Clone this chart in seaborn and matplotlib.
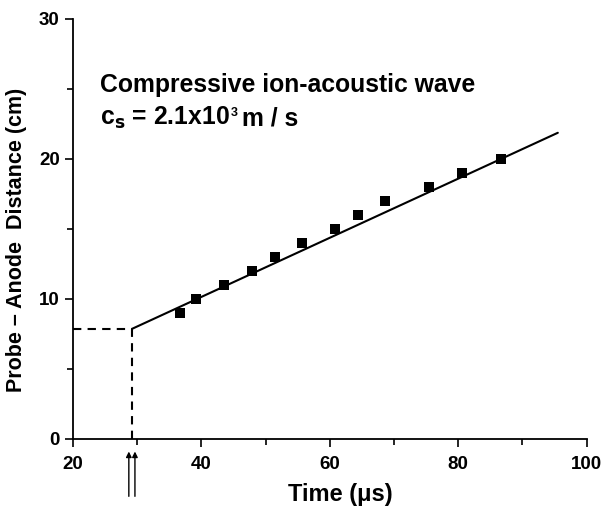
import matplotlib
matplotlib.use("Agg")
import matplotlib.pyplot as plt
import seaborn as sns

# measured arrival times and probe-anode distances
time_us = [36.7, 39.2, 43.5, 47.9, 51.5, 55.7, 60.8, 64.4, 68.6, 75.5, 80.6, 86.7]
dist_cm = [9, 10, 11, 12, 13, 14, 15, 16, 17, 18, 19, 20]

# linear fit (c_s = 2.1x10^3 m/s)
fit_t = [29.2, 95.5]
fit_d = [7.86, 21.86]

# launch-time markers on the time axis
arrow_t = [28.7, 29.65]

sns.set_style("ticks")
plt.rcParams['font.family'] = ['Liberation Sans', 'DejaVu Sans']
plt.rcParams.update({'text.color': 'black', 'axes.labelcolor': 'black',
                     'xtick.color': 'black', 'ytick.color': 'black',
                     'axes.edgecolor': 'black'})

fig = plt.figure(figsize=(6.03, 5.08), dpi=100)
ax = fig.add_axes([0.121, 0.136, 0.852, 0.827])

sns.lineplot(x=fit_t, y=fit_d, color='black', lw=1.5, ax=ax)
sns.scatterplot(x=time_us, y=dist_cm, marker='s', s=60, color='black',
                edgecolor='black', linewidth=0, ax=ax, zorder=3)

# dashed guides to the extrapolated origin
ax.plot([20, fit_t[0]], [fit_d[0], fit_d[0]], ls='--', color='black', lw=1.5, dashes=(4, 3))
ax.plot([fit_t[0], fit_t[0]], [0, fit_d[0]], ls='--', color='black', lw=1.5, dashes=(4, 3))

for t in arrow_t:
    ax.annotate('', xy=(t, -0.9), xytext=(t, -4.1), annotation_clip=False,
                arrowprops=dict(arrowstyle='-|>', color='black', lw=1.0,
                                mutation_scale=8, shrinkA=0, shrinkB=0))

ax.set_xlim(20, 100)
ax.set_ylim(0, 30)
ax.set_xticks([20, 40, 60, 80, 100])
ax.set_xticks([30, 50, 70, 90], minor=True)
ax.set_yticks([0, 10, 20, 30])
ax.set_yticks([5, 15, 25], minor=True)
ax.tick_params(which='major', length=6, width=1.2, labelsize=13.5)
ax.tick_params(axis='x', which='major', pad=6)
ax.tick_params(which='minor', length=4, width=1.2)
for lab in ax.get_xticklabels() + ax.get_yticklabels():
    lab.set_fontweight('bold')
for s in ['left', 'bottom']:
    ax.spines[s].set_linewidth(1.3)
sns.despine(ax=ax)

ax.set_xlabel('Time (μs)', fontsize=17, fontweight='bold')
ax.xaxis.set_label_coords(0.52, -0.105)
ax.set_ylabel('Probe – Anode  Distance (cm)', fontsize=15.5, fontweight='bold')
ax.yaxis.set_label_coords(-0.09, 0.474)

ax.text(24.2, 24.8, 'Compressive ion-acoustic wave', fontsize=17.8, fontweight='bold')
t1 = ax.text(24.2, 22.4, r'c$_{\mathbf{s}}$ = 2.1x10', fontsize=17.8, fontweight='bold')
ax.annotate('3', xy=(1, 22.4), xycoords=(t1, 'data'), xytext=(1, 6.5),
            textcoords='offset points', va='baseline', fontsize=9, fontweight='bold')
ax.annotate('m / s', xy=(1, 22.4), xycoords=(t1, 'data'), xytext=(9, 0),
            textcoords='offset points', va='baseline', fontsize=17.8, fontweight='bold')

fig.savefig('out.png', dpi=100)
